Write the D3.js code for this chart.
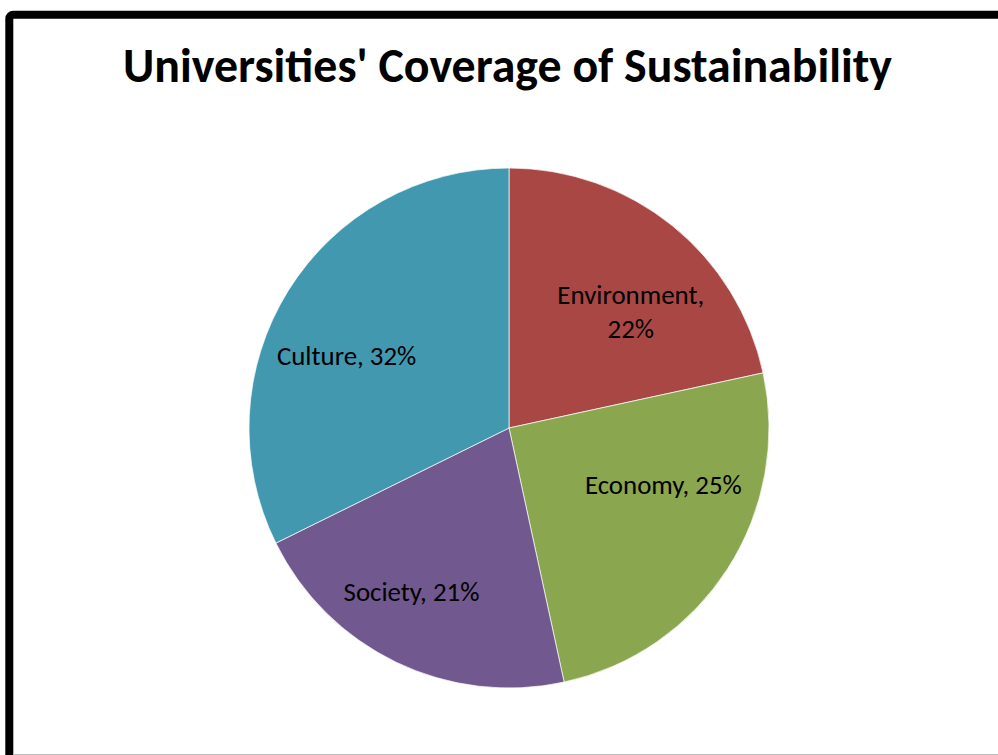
<!DOCTYPE html>
<html>
<head>
<meta charset="utf-8">
<script src="https://cdn.jsdelivr.net/npm/d3@7"></script>
<style>
  html, body { margin: 0; padding: 0; background: #fff; }
  svg { display: block; }
</style>
</head>
<body>
<svg id="chart" width="998" height="755"></svg>
<script>
// ---- data ----
const categories = ["Environment", "Economy", "Society", "Culture"];
const values = [21.6, 25.0, 21.1, 32.3];
const colors = ["#A94745", "#8AA64F", "#71588F", "#4198AF"];
const title = "Universities' Coverage of Sustainability";

// ---- layout (not data) ----
const W = 998, H = 755;
const cx = 509, cy = 428, R = 260;
const labelFont = "Carlito, Lato, 'Open Sans', sans-serif";
const titleFont = "Carlito, 'Open Sans', Lato, sans-serif";
// label placement: angular shift from slice mid-angle (deg) and radius fraction
const labelAngleShift = [7.5, -12.5, 5.0, -8.0];
const labelRadius = [0.647, 0.633, 0.734, 0.683];
const labelBreak = [true, false, false, false];

const svg = d3.select("#chart");

// frame
svg.append("rect")
  .attr("x", 9.3).attr("y", 14.7)
  .attr("width", 1100).attr("height", 900)
  .attr("rx", 4)
  .attr("fill", "#fff").attr("stroke", "#000").attr("stroke-width", 8);
svg.append("line")
  .attr("x1", 13).attr("x2", W).attr("y1", 754.5).attr("y2", 754.5)
  .attr("stroke", "#bdbdbd").attr("stroke-width", 1);

// title, fitted to target width
const t = svg.append("text")
  .attr("x", 507.5).attr("y", 82)
  .attr("text-anchor", "middle")
  .attr("font-family", titleFont)
  .attr("font-weight", "bold")
  .attr("font-size", 48)
  .attr("fill", "#000")
  .text(title);
{
  const w = t.node().getComputedTextLength();
  t.attr("font-size", 48 * 769 / w);
}

// pie
const pie = d3.pie().sort(null).value(d => d)(values);
const arc = d3.arc().innerRadius(0).outerRadius(R);
const g = svg.append("g").attr("transform", `translate(${cx},${cy})`);

g.selectAll("path.slice")
  .data(pie)
  .join("path")
  .attr("class", "slice")
  .attr("d", arc)
  .attr("fill", (d, i) => colors[i])
  .attr("stroke", "#fff")
  .attr("stroke-width", 0.7);

// labels: fit font size so "Economy, 25%" is ~157px wide
const probe = svg.append("text").attr("font-family", labelFont).attr("font-size", 26).text("Economy, 25%");
const fs = 26 * 157 / probe.node().getComputedTextLength();
probe.remove();
const lh = 33.5;

pie.forEach((d, i) => {
  const mid = (d.startAngle + d.endAngle) / 2 + labelAngleShift[i] * Math.PI / 180;
  const r = labelRadius[i] * R;
  const x = r * Math.sin(mid), y = -r * Math.cos(mid);
  const pct = Math.round(values[i] / d3.sum(values) * 100) + "%";
  const lines = labelBreak[i] ? [categories[i] + ",", pct] : [categories[i] + ", " + pct];
  const txt = g.append("text")
    .attr("text-anchor", "middle")
    .attr("font-family", labelFont)
    .attr("font-size", fs)
    .attr("fill", "#000");
  lines.forEach((s, k) => {
    txt.append("tspan")
      .attr("x", x)
      .attr("y", y + (k - (lines.length - 1) / 2) * lh)
      .attr("dy", "0.33em")
      .text(s);
  });
});
</script>
</body>
</html>
